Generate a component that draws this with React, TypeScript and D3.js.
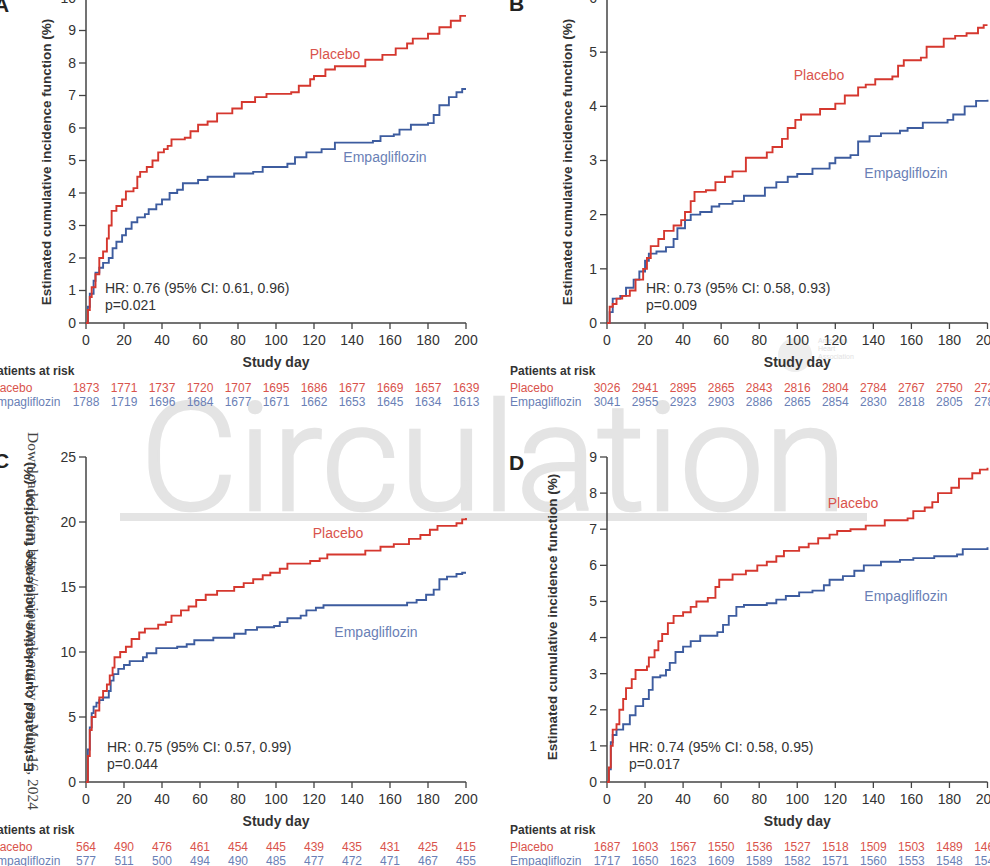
import React from 'react';
import * as d3 from 'd3';

type Pt = [number, number];

const dayTicks = [0, 20, 40, 60, 80, 100, 120, 140, 160, 180, 200];

const placeboA: Pt[] = [[0,0],[1,0.4],[2,0.8],[3,1.1],[5,1.5],[7,2.0],[9,2.2],[11,2.6],[12,3.0],[13.5,3.45],[16,3.6],[19,3.8],[21,4.05],[25,4.15],[27,4.5],[28.5,4.65],[32,4.8],[35,5.0],[38,5.25],[41,5.35],[43,5.45],[45,5.65],[52,5.7],[55,5.9],[59,6.1],[64,6.2],[69,6.45],[77,6.6],[82,6.8],[89,6.95],[95,7.05],[108,7.1],[112,7.3],[118,7.5],[120,7.6],[126,7.8],[131,7.9],[147,8.1],[156,8.25],[163,8.45],[169,8.6],[172,8.75],[180,8.9],[186,9.1],[192,9.3],[197,9.45],[200,9.45]];
const empaA: Pt[] = [[0,0],[1,0.5],[2,0.9],[4,1.3],[5,1.55],[7,1.7],[9,1.85],[12,2.0],[14,2.3],[16,2.5],[19,2.7],[21,2.9],[24,3.1],[27,3.25],[31,3.35],[33,3.5],[37,3.65],[40,3.8],[44,4.0],[48,4.1],[51,4.3],[59,4.4],[64,4.5],[78,4.6],[88,4.65],[93,4.8],[106,4.9],[110,5.1],[116,5.25],[124,5.35],[131,5.55],[151,5.6],[155,5.75],[162,5.8],[165,5.95],[171,6.1],[180,6.15],[183,6.4],[186,6.7],[191,6.95],[195,7.1],[198,7.2],[200,7.2]];

const placeboB: Pt[] = [[0,0],[1.4,0.3],[3,0.35],[5,0.45],[8,0.5],[12,0.6],[15,0.8],[19,1.0],[21,1.2],[23,1.42],[27,1.55],[30,1.7],[35,1.8],[39,1.9],[41,2.05],[44,2.25],[46,2.42],[52,2.45],[57,2.6],[62,2.7],[66,2.8],[73,3.05],[84,3.15],[87,3.25],[92,3.4],[95,3.6],[99,3.75],[102,3.85],[112,3.95],[120,4.05],[125,4.2],[132,4.35],[136,4.4],[141,4.5],[150,4.55],[153,4.75],[156,4.85],[165,4.9],[168,5.1],[177,5.25],[183,5.3],[189,5.35],[195,5.45],[198,5.5],[200,5.5]];
const empaB: Pt[] = [[0,0],[1.4,0.2],[3,0.45],[7,0.5],[10,0.65],[14,0.8],[17,0.95],[20,1.15],[22,1.28],[26,1.32],[31,1.4],[35,1.55],[37,1.75],[41,1.9],[44,2.0],[49,2.05],[55,2.15],[59,2.2],[66,2.25],[72,2.35],[83,2.5],[89,2.6],[95,2.7],[100,2.75],[108,2.85],[117,2.95],[120,3.05],[128,3.1],[132,3.35],[138,3.45],[144,3.5],[154,3.55],[158,3.6],[166,3.7],[179,3.75],[182,3.85],[188,4.0],[194,4.1],[200,4.12]];

const placeboC: Pt[] = [[0,0],[1,2.0],[2,4.0],[3,5.0],[5,5.5],[7,6.5],[9,7.0],[11,7.5],[12.5,8.2],[14,8.8],[15,9.6],[18,10.0],[21,10.4],[24,11.0],[28,11.5],[31,11.8],[38,12.1],[42,12.3],[45,12.8],[50,13.2],[54,13.5],[58,14.0],[63,14.4],[69,14.7],[78,15.0],[83,15.3],[88,15.6],[93,15.9],[97,16.1],[102,16.4],[106,16.8],[118,17.0],[123,17.2],[127,17.5],[147,17.8],[155,18.1],[162,18.3],[170,18.7],[176,19.0],[181,19.4],[185,19.7],[195,19.9],[198,20.2],[200,20.3]];
const empaC: Pt[] = [[0,0],[1,2.5],[2,4.2],[3,5.3],[4,5.8],[5.5,6.1],[7,6.3],[9,6.5],[12,7.0],[13,7.8],[14.5,8.3],[17,8.7],[20,9.0],[23,9.3],[30,9.6],[32,9.9],[37,10.3],[48,10.4],[53,10.6],[57,10.9],[67,11.1],[78,11.4],[84,11.7],[90,11.9],[99,12.0],[102,12.3],[106,12.6],[113,12.8],[116,13.2],[121,13.4],[125,13.6],[169,13.8],[174,14.0],[179,14.4],[183,14.8],[186,15.6],[190,15.8],[195,16.0],[198,16.1],[200,16.1]];

const placeboD: Pt[] = [[0,0],[1,0.4],[2,1.0],[3,1.45],[5,1.6],[6.5,2.0],[8.5,2.3],[10,2.6],[13,2.85],[15,3.1],[21,3.2],[22,3.45],[25,3.65],[27,3.9],[29,4.1],[32,4.4],[35,4.6],[40,4.7],[44,4.85],[47,5.0],[53,5.1],[57,5.4],[59,5.6],[66,5.75],[73,5.85],[79,6.0],[84,6.1],[89,6.25],[93,6.4],[101,6.5],[106,6.6],[111,6.75],[117,6.85],[121,6.95],[128,7.0],[136,7.1],[146,7.25],[158,7.3],[161,7.5],[167,7.6],[171,7.75],[174,8.0],[181,8.15],[185,8.4],[192,8.55],[196,8.65],[200,8.7]];
const empaD: Pt[] = [[0,0],[1,0.35],[2,1.1],[3,1.3],[5,1.45],[8.5,1.6],[12,1.85],[15,2.1],[19,2.3],[22,2.55],[24,2.9],[28,2.95],[31,3.1],[33,3.3],[36,3.6],[40,3.75],[44,3.9],[49,4.05],[58,4.15],[61,4.35],[64,4.6],[68,4.85],[72,4.9],[84,4.95],[89,5.05],[94,5.15],[101,5.25],[108,5.3],[114,5.45],[117,5.6],[124,5.7],[130,5.85],[135,6.0],[144,6.1],[154,6.15],[161,6.2],[172,6.25],[184,6.3],[187,6.45],[200,6.5]];

const riskPlaceboA = [1873, 1771, 1737, 1720, 1707, 1695, 1686, 1677, 1669, 1657, 1639];
const riskEmpaA = [1788, 1719, 1696, 1684, 1677, 1671, 1662, 1653, 1645, 1634, 1613];
const riskPlaceboB = [3026, 2941, 2895, 2865, 2843, 2816, 2804, 2784, 2767, 2750, 2728];
const riskEmpaB = [3041, 2955, 2923, 2903, 2886, 2865, 2854, 2830, 2818, 2805, 2786];
const riskPlaceboC = [564, 490, 476, 461, 454, 445, 439, 435, 431, 425, 415];
const riskEmpaC = [577, 511, 500, 494, 490, 485, 477, 472, 471, 467, 455];
const riskPlaceboD = [1687, 1603, 1567, 1550, 1536, 1527, 1518, 1509, 1503, 1489, 1469];
const riskEmpaD = [1717, 1650, 1623, 1609, 1589, 1582, 1571, 1560, 1553, 1548, 1540];

const yTicksA = d3.range(0, 11, 1);
const yTicksB = d3.range(0, 7, 1);
const yTicksC = d3.range(0, 26, 5);
const yTicksD = d3.range(0, 10, 1);

const statsA = ['HR: 0.76 (95% CI: 0.61, 0.96)', 'p=0.021'];
const statsB = ['HR: 0.73 (95% CI: 0.58, 0.93)', 'p=0.009'];
const statsC = ['HR: 0.75 (95% CI: 0.57, 0.99)', 'p=0.044'];
const statsD = ['HR: 0.74 (95% CI: 0.58, 0.95)', 'p=0.017'];

const FONT = '"Liberation Sans", Arial, Helvetica, sans-serif';
const RED_LINE = '#d5372e';
const BLUE_LINE = '#3d5c9f';
const RED_TEXT = '#d9534c';
const BLUE_TEXT = '#6a7fb6';
const AXIS = '#444';
const TICKTXT = '#333';
const YTITLE = 'Estimated cumulative incidence function (%)';

type PanelProps = {
  letter: string;
  letterX: number;
  letterY: number;
  x0: number;
  x1: number;
  yBottom: number;
  yTop: number;
  yMax: number;
  yTicks: number[];
  placebo: Pt[];
  empa: Pt[];
  riskP: number[];
  riskE: number[];
  stats: string[];
  statsX: number;
  statsY: number;
  placeboLbl: [number, number];
  empaLbl: [number, number];
  titleX: number;
  titleY: number;
  titleLen?: number;
};

function Panel(p: PanelProps) {
  const x = d3.scaleLinear().domain([0, 200]).range([p.x0, p.x1]);
  const y = d3.scaleLinear().domain([0, p.yMax]).range([p.yBottom, p.yTop]);
  const line = d3
    .line<Pt>()
    .x((d) => x(d[0]))
    .y((d) => y(d[1]))
    .curve(d3.curveStepAfter);
  const labelX = p.x0 - 97;
  return (
    <g fontFamily={FONT}>
      <text x={p.letterX} y={p.letterY} fontSize={21} fontWeight="bold" fill="#222">
        {p.letter}
      </text>
      <line x1={p.x0} x2={p.x0} y1={y(0)} y2={y(p.yMax)} stroke={AXIS} strokeWidth={1.5} />
      {p.yTicks.map((t) => (
        <g key={'y' + t}>
          <line x1={p.x0 - 7} x2={p.x0} y1={y(t)} y2={y(t)} stroke={AXIS} strokeWidth={1.3} />
          <text x={p.x0 - 10} y={y(t)} dy="0.35em" textAnchor="end" fontSize={14} fill={TICKTXT}>
            {t}
          </text>
        </g>
      ))}
      <line x1={p.x0} x2={p.x1} y1={p.yBottom} y2={p.yBottom} stroke={AXIS} strokeWidth={1.5} />
      {dayTicks.map((t) => (
        <g key={'x' + t}>
          <line x1={x(t)} x2={x(t)} y1={p.yBottom} y2={p.yBottom + 6} stroke={AXIS} strokeWidth={1.3} />
          <text x={x(t)} y={p.yBottom + 22} textAnchor="middle" fontSize={14} fill={TICKTXT}>
            {t}
          </text>
        </g>
      ))}
      <text
        x={(p.x0 + p.x1) / 2}
        y={p.yBottom + 44}
        textAnchor="middle"
        fontSize={14}
        fontWeight="bold"
        fill="#333"
      >
        Study day
      </text>
      <text
        transform={`translate(${p.titleX},${p.titleY}) rotate(-90)`}
        textAnchor="middle"
        fontSize={13.5}
        fontWeight="bold"
        fill="#333"
        textLength={p.titleLen}
        lengthAdjust={p.titleLen ? 'spacingAndGlyphs' : undefined}
      >
        {YTITLE}
      </text>
      <path d={line(p.empa) || ''} fill="none" stroke={BLUE_LINE} strokeWidth={1.9} />
      <path d={line(p.placebo) || ''} fill="none" stroke={RED_LINE} strokeWidth={1.9} />
      <text x={p.placeboLbl[0]} y={p.placeboLbl[1]} textAnchor="middle" fontSize={14} fill={RED_TEXT}>
        Placebo
      </text>
      <text x={p.empaLbl[0]} y={p.empaLbl[1]} textAnchor="middle" fontSize={14} fill={BLUE_TEXT}>
        Empagliflozin
      </text>
      <text x={p.statsX} y={p.statsY} fontSize={14} fill="#333">
        {p.stats[0]}
      </text>
      <text x={p.statsX} y={p.statsY + 17} fontSize={14} fill="#333">
        {p.stats[1]}
      </text>
      <text x={labelX} y={p.yBottom + 52} fontSize={12} fontWeight="bold" fill="#333">
        Patients at risk
      </text>
      <text x={labelX} y={p.yBottom + 69} fontSize={12} fill={RED_TEXT}>
        Placebo
      </text>
      <text x={labelX} y={p.yBottom + 83} fontSize={12} fill={BLUE_TEXT}>
        Empagliflozin
      </text>
      {p.riskP.map((v, i) => (
        <text key={'rp' + i} x={x(dayTicks[i])} y={p.yBottom + 69} textAnchor="middle" fontSize={12} fill={RED_TEXT}>
          {v}
        </text>
      ))}
      {p.riskE.map((v, i) => (
        <text key={'re' + i} x={x(dayTicks[i])} y={p.yBottom + 83} textAnchor="middle" fontSize={12} fill={BLUE_TEXT}>
          {v}
        </text>
      ))}
    </g>
  );
}

export default function App() {
  return (
    <svg
      width={990}
      height={866}
      style={{ position: 'absolute', left: 0, top: 0, background: '#fff' }}
    >
      <rect x={0} y={0} width={990} height={866} fill="#fff" />
      <g>
        <text
          x={140}
          y={510}
          fontFamily='Roboto, "Open Sans", "Liberation Sans", sans-serif'
          fontWeight={300}
          fontSize={150}
          fill="#e4e4e4"
          stroke="#e4e4e4"
          strokeWidth={2.5}
          textLength={707}
          lengthAdjust="spacingAndGlyphs"
        >
          Circulation
        </text>
        <rect x={120} y={513} width={747} height={8} fill="#e4e4e4" />
        <circle cx={795} cy={355} r={17} fill="#eeeeee" />
        <text x={818} y={343} fontSize={7} fill="#e2e2e2" fontFamily={FONT}>American</text>
        <text x={818} y={351} fontSize={7} fill="#e2e2e2" fontFamily={FONT}>Heart</text>
        <text x={818} y={359} fontSize={7} fill="#e2e2e2" fontFamily={FONT}>Association</text>
      </g>
      <Panel
        letter="A" letterX={-6} letterY={12}
        x0={86} x1={466} yBottom={323} yTop={-2} yMax={10} yTicks={yTicksA}
        placebo={placeboA} empa={empaA} riskP={riskPlaceboA} riskE={riskEmpaA}
        stats={statsA} statsX={105} statsY={293}
        placeboLbl={[335, 59]} empaLbl={[385, 162]}
        titleX={51} titleY={162}
      />
      <Panel
        letter="B" letterX={509} letterY={11}
        x0={607} x1={987.5} yBottom={323} yTop={-2} yMax={6} yTicks={yTicksB}
        placebo={placeboB} empa={empaB} riskP={riskPlaceboB} riskE={riskEmpaB}
        stats={statsB} statsX={646} statsY={293}
        placeboLbl={[819, 80]} empaLbl={[906, 178]}
        titleX={572} titleY={162}
      />
      <Panel
        letter="C" letterX={-6} letterY={468}
        x0={86} x1={466} yBottom={782} yTop={457} yMax={25} yTicks={yTicksC}
        placebo={placeboC} empa={empaC} riskP={riskPlaceboC} riskE={riskEmpaC}
        stats={statsC} statsX={107} statsY={752}
        placeboLbl={[338, 538]} empaLbl={[376, 637]}
        titleX={33} titleY={617} titleLen={310}
      />
      <Panel
        letter="D" letterX={509} letterY={470}
        x0={607} x1={987.5} yBottom={782} yTop={457} yMax={9} yTicks={yTicksD}
        placebo={placeboD} empa={empaD} riskP={riskPlaceboD} riskE={riskEmpaD}
        stats={statsD} statsX={629} statsY={752}
        placeboLbl={[853, 508]} empaLbl={[906, 601]}
        titleX={557} titleY={617}
      />
      <text
        transform="translate(28,432) rotate(90)"
        fontFamily='"Liberation Serif", "DejaVu Serif", serif'
        fontSize={14}
        fill="#444"
        textLength={378}
        lengthAdjust="spacingAndGlyphs"
      >
        Downloaded from http://ahajournals.org by on May 16, 2024
      </text>
    </svg>
  );
}
